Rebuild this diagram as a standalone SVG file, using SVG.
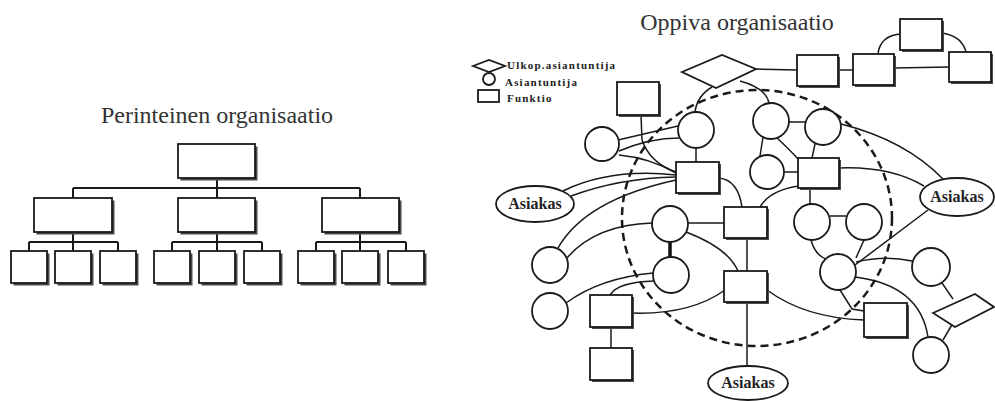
<svg xmlns="http://www.w3.org/2000/svg" width="995" height="401" viewBox="0 0 995 401">
<defs>
<style>
.bx{fill:#fff;stroke:#1a1a1a;stroke-width:1.8}
.sh{fill:#4a4a4a}
.nd{fill:#fff;stroke:#1a1a1a;stroke-width:1.8}
.ln{fill:none;stroke:#1a1a1a;stroke-width:1.5}
.ln2{fill:none;stroke:#1a1a1a;stroke-width:2}
.dash{fill:none;stroke:#1a1a1a;stroke-width:2.5;stroke-dasharray:8 5}
.title{font-family:"Liberation Serif","Times New Roman",serif;font-size:24px;fill:#333;text-anchor:middle}
.leg{font-family:"Liberation Serif","Times New Roman",serif;font-size:11px;font-weight:bold;fill:#222;letter-spacing:1.2px}
.lab{font-family:"Liberation Serif","Times New Roman",serif;font-size:16px;font-weight:bold;fill:#222;text-anchor:middle}
</style>
</defs>
<rect width="995" height="401" fill="#fff"/>

<!-- Left: traditional organisation -->
<text class="title" x="217" y="123">Perinteinen organisaatio</text>
<g id="left-connectors">
<path class="ln2" d="M217,178 V188 M73,188 H360 M73,188 V198 M217,188 V198 M360,188 V198"/>
<path class="ln2" d="M73,232 V242 M29,242 H118 M29,242 V251 M73,242 V251 M118,242 V251"/>
<path class="ln2" d="M217,232 V242 M172,242 H262 M172,242 V251 M217,242 V251 M262,242 V251"/>
<path class="ln2" d="M360,232 V242 M316,242 H406 M316,242 V251 M360,242 V251 M406,242 V251"/>
</g>
<g id="l-top"><rect class="sh" x="180.5" y="146.5" width="77" height="34"/><rect class="bx" x="178" y="144" width="77" height="34"/></g>
<g id="l-mid1"><rect class="sh" x="36.5" y="200.5" width="78" height="34"/><rect class="bx" x="34" y="198" width="78" height="34"/></g>
<g id="l-mid2"><rect class="sh" x="180.5" y="200.5" width="77" height="34"/><rect class="bx" x="178" y="198" width="77" height="34"/></g>
<g id="l-mid3"><rect class="sh" x="324.5" y="200.5" width="77" height="34"/><rect class="bx" x="322" y="198" width="77" height="34"/></g>
<g id="l-b1"><rect class="sh" x="13.5" y="253.5" width="36" height="32"/><rect class="bx" x="11" y="251" width="36" height="32"/></g>
<g id="l-b2"><rect class="sh" x="57.5" y="253.5" width="36" height="32"/><rect class="bx" x="55" y="251" width="36" height="32"/></g>
<g id="l-b3"><rect class="sh" x="102.5" y="253.5" width="36" height="32"/><rect class="bx" x="100" y="251" width="36" height="32"/></g>
<g id="l-b4"><rect class="sh" x="156.5" y="253.5" width="36" height="32"/><rect class="bx" x="154" y="251" width="36" height="32"/></g>
<g id="l-b5"><rect class="sh" x="201.5" y="253.5" width="36" height="32"/><rect class="bx" x="199" y="251" width="36" height="32"/></g>
<g id="l-b6"><rect class="sh" x="246.5" y="253.5" width="36" height="32"/><rect class="bx" x="244" y="251" width="36" height="32"/></g>
<g id="l-b7"><rect class="sh" x="300.5" y="253.5" width="36" height="32"/><rect class="bx" x="298" y="251" width="36" height="32"/></g>
<g id="l-b8"><rect class="sh" x="344.5" y="253.5" width="36" height="32"/><rect class="bx" x="342" y="251" width="36" height="32"/></g>
<g id="l-b9"><rect class="sh" x="390.5" y="253.5" width="36" height="32"/><rect class="bx" x="388" y="251" width="36" height="32"/></g>

<!-- Right: learning organisation -->
<text class="title" x="737" y="30">Oppiva organisaatio</text>

<g id="legend">
<polygon class="nd" points="473,66 489,60 505,66 489,72"/>
<circle class="nd" cx="489" cy="79" r="6"/>
<rect class="bx" x="478" y="90" width="21" height="12"/>
<text class="leg" x="507" y="69">Ulkop.asiantuntija</text>
<text class="leg" x="505" y="86">Asiantuntija</text>
<text class="leg" x="507" y="102">Funktio</text>
</g>

<g id="connectors">
<ellipse class="dash" cx="757" cy="218" rx="135" ry="128"/>
<path class="ln" d="M756,69 L797,70"/>
<path class="ln" d="M838,70 L853,70"/>
<path class="ln" d="M894,68 L949,67"/>
<path class="ln" d="M878,54 Q880,36 900,34"/>
<path class="ln" d="M942,33 Q962,36 966,52"/>
<path class="ln" d="M712,87 Q697,96 695,112"/>
<path class="ln" d="M740,81 Q766,88 769,103"/>
<path class="ln" d="M641,115 L642,140 Q650,163 676,172"/>
<path class="ln" d="M618,140 L678,126"/>
<path class="ln" d="M619,151 Q650,138 679,138"/>
<path class="ln" d="M619,155 Q650,158 676,173"/>
<path class="ln" d="M563,191 Q610,168 676,175"/>
<path class="ln" d="M571,196 Q620,178 676,177"/>
<path class="ln" d="M558,248 Q585,200 676,180"/>
<path class="ln" d="M696,148 L696,162"/>
<path class="ln" d="M567,258 Q595,225 652,223"/>
<path class="ln" d="M566,303 Q600,278 653,273"/>
<path class="ln" d="M610,295 Q618,282 654,281"/>
<path class="ln" d="M632,313 Q690,315 725,290"/>
<path fill="none" stroke="#111" stroke-width="3.5" d="M670,242 L670,257"/>
<path class="ln" d="M611,327 L611,348"/>
<path class="ln" d="M688,223 L724,223"/>
<path class="ln" d="M686,232 Q728,248 738,271"/>
<path class="ln" d="M719,178 Q738,180 742,207"/>
<path class="ln" d="M799,186 Q770,190 760,207"/>
<path class="ln" d="M747,238 L747,271"/>
<path class="ln" d="M747,302 L747,366"/>
<path class="ln" d="M789,122 L805,122"/>
<path class="ln" d="M763,137 L760,156"/>
<path class="ln" d="M777,138 Q790,150 799,160"/>
<path class="ln" d="M815,144 L812,158"/>
<path class="ln" d="M784,172 L798,172"/>
<path class="ln" d="M810,188 L810,204"/>
<path class="ln" d="M841,124 Q905,140 943,179"/>
<path class="ln" d="M839,168 Q890,166 924,186"/>
<path class="ln" d="M928,210 L855,265"/>
<path class="ln" d="M830,216 L846,216"/>
<path class="ln" d="M811,240 Q815,255 826,259"/>
<path class="ln" d="M864,240 L856,258"/>
<path class="ln" d="M856,262 Q885,255 912,261"/>
<path class="ln" d="M855,277 Q920,285 928,337"/>
<path class="ln" d="M840,290 L852,309 L864,311"/>
<path class="ln" d="M767,290 Q805,318 864,320"/>
<path class="ln" d="M942,283 L953,299"/>
<path class="ln" d="M953,323 L943,340"/>
</g>

<g id="D1"><polygon class="nd" points="682,72 722,55 756,69 716,88"/></g>
<g id="T1"><rect class="sh" x="799" y="57" width="41" height="31"/><rect class="bx" x="797" y="55" width="41" height="31"/></g>
<g id="T2"><rect class="sh" x="855" y="56" width="41" height="31"/><rect class="bx" x="853" y="54" width="41" height="31"/></g>
<g id="T3"><rect class="sh" x="902" y="21" width="42" height="31"/><rect class="bx" x="900" y="19" width="42" height="31"/></g>
<g id="T4"><rect class="sh" x="951" y="54" width="42" height="30"/><rect class="bx" x="949" y="52" width="42" height="30"/></g>
<g id="A1"><rect class="sh" x="619" y="84" width="42" height="33"/><rect class="bx" x="617" y="82" width="42" height="33"/></g>
<g id="C1"><circle class="nd" cx="602" cy="144" r="17"/></g>
<g id="C2"><circle class="nd" cx="696" cy="130" r="18"/></g>
<g id="S1"><rect class="sh" x="678" y="164" width="43" height="31"/><rect class="bx" x="676" y="162" width="43" height="31"/></g>
<g id="C3"><circle class="nd" cx="771" cy="121" r="18"/></g>
<g id="C4"><circle class="nd" cx="823" cy="127" r="18"/></g>
<g id="C5"><circle class="nd" cx="767" cy="172" r="17"/></g>
<g id="S2"><rect class="sh" x="800" y="160" width="41" height="30"/><rect class="bx" x="798" y="158" width="41" height="30"/></g>
<g id="E2"><ellipse class="nd" cx="535" cy="204" rx="39" ry="18"/><text class="lab" x="535" y="209">Asiakas</text></g>
<g id="E1"><ellipse class="nd" cx="957" cy="197" rx="37" ry="19"/><text class="lab" x="957" y="202">Asiakas</text></g>
<g id="C6"><circle class="nd" cx="670" cy="224" r="18"/></g>
<g id="C7"><circle class="nd" cx="550" cy="265" r="18"/></g>
<g id="C8"><circle class="nd" cx="671" cy="275" r="18"/></g>
<g id="C9"><circle class="nd" cx="550" cy="311" r="18"/></g>
<g id="S3"><rect class="sh" x="592" y="297" width="42" height="32"/><rect class="bx" x="590" y="295" width="42" height="32"/></g>
<g id="S4"><rect class="sh" x="592" y="350" width="42" height="32"/><rect class="bx" x="590" y="348" width="42" height="32"/></g>
<g id="S5"><rect class="sh" x="726" y="209" width="43" height="31"/><rect class="bx" x="724" y="207" width="43" height="31"/></g>
<g id="S6"><rect class="sh" x="726" y="273" width="43" height="31"/><rect class="bx" x="724" y="271" width="43" height="31"/></g>
<g id="C10"><circle class="nd" cx="812" cy="222" r="18"/></g>
<g id="C12"><circle class="nd" cx="864" cy="222" r="18"/></g>
<g id="C11"><circle class="nd" cx="838" cy="272" r="18"/></g>
<g id="S7"><rect class="sh" x="866" y="305" width="43" height="34"/><rect class="bx" x="864" y="303" width="43" height="34"/></g>
<g id="C13"><circle class="nd" cx="931" cy="267" r="19"/></g>
<g id="C14"><circle class="nd" cx="931" cy="355" r="18"/></g>
<g id="D2"><polygon class="nd" points="933,313 975,294 994,307 955,327"/></g>
<g id="E3"><ellipse class="nd" cx="748" cy="383" rx="40" ry="17"/><text class="lab" x="748" y="388">Asiakas</text></g>
</svg>
